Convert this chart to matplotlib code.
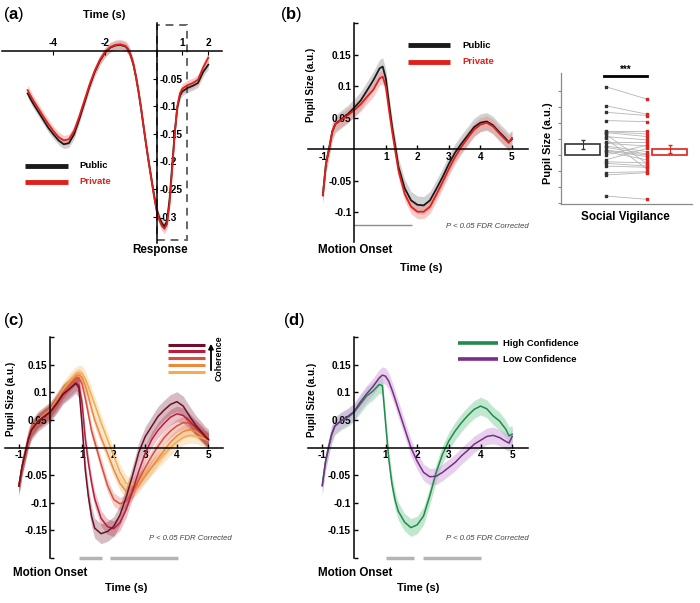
import numpy as np
import matplotlib
matplotlib.use("Agg")
import matplotlib.pyplot as plt
from matplotlib.lines import Line2D
from matplotlib.patches import Rectangle, FancyArrowPatch

plt.rcParams.update({
    "font.family": ["Liberation Sans", "DejaVu Sans"],
    "font.weight": "bold",
    "axes.unicode_minus": False,
    "mathtext.fontset": "custom",
    "mathtext.rm": "Liberation Sans",
    "mathtext.bf": "Liberation Sans:bold",
    "axes.linewidth": 1.1,
})

# ---- data -------------------------------------------------------------
# (a) response-locked pupil (s relative to response)
T_RESP = [-5.0, -4.8, -4.6, -4.4, -4.2, -4.0, -3.8, -3.6, -3.4, -3.2, -3.0, -2.8,
          -2.6, -2.4, -2.2, -2.0, -1.8, -1.6, -1.4, -1.2, -1.1, -1.0, -0.9, -0.8,
          -0.7, -0.6, -0.5, -0.4, -0.3, -0.2, -0.1, 0.0, 0.1, 0.2, 0.3, 0.4, 0.5,
          0.6, 0.7, 0.8, 0.9, 1.0, 1.1, 1.2, 1.4, 1.6, 1.8, 2.0]
RESP_PUBLIC = [-0.077, -0.094, -0.109, -0.124, -0.139, -0.151, -0.162, -0.169, -0.167,
               -0.151, -0.124, -0.094, -0.064, -0.038, -0.018, -0.003, 0.006, 0.010,
               0.011, 0.008, 0.002, -0.009, -0.025, -0.048, -0.075, -0.106, -0.140,
               -0.173, -0.204, -0.233, -0.262, -0.287, -0.302, -0.312, -0.318, -0.308,
               -0.268, -0.208, -0.147, -0.102, -0.081, -0.073, -0.070, -0.067, -0.063,
               -0.058, -0.038, -0.025]
RESP_PRIVATE = [-0.071, -0.088, -0.103, -0.118, -0.132, -0.145, -0.156, -0.162, -0.160,
                -0.145, -0.119, -0.090, -0.061, -0.036, -0.016, -0.002, 0.007, 0.011,
                0.012, 0.009, 0.003, -0.008, -0.024, -0.047, -0.074, -0.105, -0.139,
                -0.172, -0.204, -0.234, -0.264, -0.290, -0.306, -0.317, -0.322, -0.314,
                -0.276, -0.214, -0.150, -0.100, -0.077, -0.068, -0.065, -0.062, -0.058,
                -0.052, -0.030, -0.012]
SEM_RESP_PUBLIC = 0.008
SEM_RESP_PRIVATE = 0.009

# (b)-(d) motion-onset-locked pupil
T_MOTION = [-1.0, -0.9, -0.8, -0.7, -0.6, -0.4, -0.2, 0.0, 0.2, 0.4, 0.6, 0.8, 0.9,
            1.0, 1.1, 1.2, 1.3, 1.4, 1.6, 1.8, 2.0, 2.2, 2.4, 2.6, 2.8, 3.0, 3.2,
            3.4, 3.6, 3.8, 4.0, 4.2, 4.4, 4.6, 4.8, 4.9, 5.0]

PUBLIC = [-0.073, -0.023, 0.001, 0.028, 0.040, 0.048, 0.056, 0.066, 0.077, 0.093,
          0.109, 0.128, 0.131, 0.112, 0.072, 0.035, 0.004, -0.028, -0.062, -0.081,
          -0.088, -0.089, -0.081, -0.063, -0.044, -0.023, -0.005, 0.009, 0.022, 0.035,
          0.042, 0.044, 0.038, 0.027, 0.017, 0.011, 0.016]
PRIVATE = [-0.073, -0.023, 0.001, 0.028, 0.040, 0.047, 0.054, 0.062, 0.071, 0.083,
           0.094, 0.112, 0.115, 0.099, 0.062, 0.028, -0.003, -0.034, -0.071, -0.091,
           -0.099, -0.099, -0.091, -0.072, -0.052, -0.031, -0.012, 0.004, 0.018, 0.031,
           0.039, 0.042, 0.036, 0.025, 0.015, 0.010, 0.018]
SEM_PUBLIC = 0.014
SEM_PRIVATE = 0.011

# paired per-subject social vigilance values (arbitrary units)
VIG_PUBLIC = [4.27, 3.08, 2.67, 2.15, 1.52, 1.46, 1.40, 1.31, 1.15, 1.04, 0.83, 0.73,
              0.56, 0.48, 0.31, 0.27, 0.21, 0.00, -0.31, -0.42, -0.52, -0.69, -1.10,
              -1.25, -2.56]
VIG_PRIVATE = [3.48, 2.54, 2.46, 2.08, 1.52, 1.31, 1.15, -0.56, 0.94, -0.90, 0.83, 0.56,
               0.21, 0.06, 0.00, -0.10, -0.31, 0.62, 0.42, -0.50, -0.69, -0.77, -1.04,
               -1.10, -2.77]

# (c) coherence levels, highest first
COHERENCE = [
    [-0.070, -0.035, -0.010, 0.015, 0.032, 0.047, 0.056, 0.065, 0.080, 0.097, 0.106,
     0.116, 0.108, 0.040, -0.040, -0.089, -0.125, -0.146, -0.156, -0.152, -0.143,
     -0.122, -0.089, -0.050, -0.008, 0.020, 0.038, 0.056, 0.068, 0.078, 0.083, 0.075,
     0.057, 0.040, 0.027, 0.020, 0.015],
    [-0.070, -0.035, -0.010, 0.015, 0.032, 0.047, 0.056, 0.064, 0.079, 0.096, 0.106,
     0.117, 0.113, 0.080, 0.016, -0.028, -0.064, -0.093, -0.128, -0.143, -0.147,
     -0.136, -0.112, -0.078, -0.042, -0.010, 0.014, 0.031, 0.044, 0.055, 0.061, 0.058,
     0.048, 0.036, 0.025, 0.019, 0.014],
    [-0.070, -0.035, -0.010, 0.016, 0.033, 0.048, 0.057, 0.066, 0.082, 0.100, 0.113,
     0.125, 0.126, 0.115, 0.090, 0.060, 0.030, 0.010, -0.030, -0.068, -0.094, -0.102,
     -0.097, -0.080, -0.058, -0.036, -0.016, 0.002, 0.018, 0.030, 0.039, 0.045, 0.044,
     0.036, 0.024, 0.018, 0.014],
    [-0.070, -0.035, -0.010, 0.016, 0.033, 0.048, 0.058, 0.067, 0.084, 0.102, 0.116,
     0.128, 0.131, 0.127, 0.112, 0.092, 0.070, 0.050, 0.018, -0.010, -0.040, -0.065,
     -0.080, -0.080, -0.068, -0.052, -0.036, -0.020, -0.005, 0.010, 0.021, 0.029,
     0.032, 0.029, 0.021, 0.017, 0.013],
    [-0.070, -0.035, -0.010, 0.016, 0.033, 0.049, 0.059, 0.068, 0.086, 0.105, 0.120,
     0.132, 0.135, 0.134, 0.125, 0.110, 0.094, 0.078, 0.045, 0.015, -0.015, -0.045,
     -0.065, -0.068, -0.060, -0.048, -0.036, -0.024, -0.012, 0.000, 0.010, 0.018,
     0.022, 0.021, 0.017, 0.015, 0.012],
]
SEM_COHERENCE = [0.018, 0.014, 0.012, 0.012, 0.014]

# (d) confidence
HIGH_CONF = [-0.069, -0.027, 0.000, 0.024, 0.039, 0.048, 0.054, 0.063, 0.078, 0.093,
             0.102, 0.114, 0.112, 0.045, -0.020, -0.065, -0.095, -0.115, -0.135, -0.145,
             -0.140, -0.124, -0.087, -0.045, -0.012, 0.012, 0.030, 0.045, 0.058, 0.069,
             0.075, 0.070, 0.057, 0.048, 0.033, 0.021, 0.024]
LOW_CONF = [-0.069, -0.027, 0.000, 0.024, 0.039, 0.049, 0.056, 0.065, 0.082, 0.097,
            0.110, 0.126, 0.131, 0.129, 0.120, 0.105, 0.088, 0.070, 0.035, 0.000,
            -0.025, -0.045, -0.053, -0.052, -0.045, -0.036, -0.027, -0.015, -0.005,
            0.006, 0.013, 0.020, 0.022, 0.018, 0.011, 0.008, 0.020]
SEM_HIGH = 0.016
SEM_LOW = 0.015

# significant clusters (s)
SIG_B = [(0.0, 1.82)]
SIG_C = [(0.89, 1.63), (1.88, 4.02)]
SIG_D = [(1.0, 1.89), (2.19, 4.0)]

# ---- colours ------------------------------------------------------------
BLACK = "#1a1a1a"
GRAYBAND = "#9a9a9a"
RED = "#e0201b"
PINK = "#f08a8a"
COH_COLORS = ["#6e1029", "#b81f3a", "#d9503c", "#ea8a3c", "#f3ad4c"]
GREEN = "#1f8b4c"
GREEN_BAND = "#8fd4a8"
PURPLE = "#7a2d8c"
PURPLE_BAND = "#d3aadd"
SIGGRAY = "#b4b4b4"

W, H = 700, 603


def fx(x):
    return x / W


def fy(y):
    return 1 - y / H


def rect(x0, y0, x1, y1):
    return [fx(x0), fy(y1), (x1 - x0) / W, (y1 - y0) / H]


def ftext(x, y, s, size=8, **kw):
    kw.setdefault("ha", "center")
    kw.setdefault("va", "center")
    kw.setdefault("fontweight", "bold")
    fig.text(fx(x), fy(y), s, fontsize=size, **kw)


def legend_line(x0, x1, y, color, lw=3.5):
    fig.add_artist(Line2D([fx(x0), fx(x1)], [fy(y), fy(y)], color=color, lw=lw,
                          solid_capstyle="butt"))


def band(ax, t, y, sem, color, bandcolor, alpha=0.45, lw=1.2):
    t = np.asarray(t)
    y = np.asarray(y)
    ax.fill_between(t, y - sem, y + sem, color=bandcolor, alpha=alpha, lw=0)
    ax.plot(t, y, color=color, lw=lw)


def motion_axes(ax, xlim, ylim, yticks, ylabels):
    ax.set_xlim(*xlim)
    ax.set_ylim(*ylim)
    for s in ["top", "right"]:
        ax.spines[s].set_visible(False)
    ax.spines["left"].set_position(("data", 0))
    ax.spines["bottom"].set_position(("data", 0))
    ax.set_xticks([-1, 1, 2, 3, 4, 5])
    ax.set_xticklabels(["-1", "1", "2", "3", "4", "5"])
    ax.set_yticks(yticks)
    ax.set_yticklabels(ylabels)
    ax.tick_params(direction="in", length=3, width=1, labelsize=7.3, pad=2)
    ax.patch.set_visible(False)


fig = plt.figure(figsize=(7.0, 6.03), dpi=100)

# ---- (a) ------------------------------------------------------------------
ax = fig.add_axes(rect(2, 23, 222, 243))
ax.set_xlim(-5.99, 2.53)
ax.set_ylim(-0.348, 0.0507)
ax.spines["left"].set_visible(False)
ax.spines["bottom"].set_visible(False)
ax.spines["top"].set_position(("data", 0))
ax.spines["right"].set_position(("data", 0))
ax.xaxis.tick_top()
ax.yaxis.tick_right()
ax.set_xticks([-4, -2, 1, 2])
ax.set_xticklabels(["-4", "-2", "1", "2"])
ax.set_yticks([-0.3, -0.25, -0.2, -0.15, -0.1, -0.05])
ax.set_yticklabels(["-0.3", "-0.25", "-0.2", "-0.15", "-0.1", "-0.05"])
ax.tick_params(direction="in", length=3, labelsize=7.3, pad=2)
ax.patch.set_visible(False)
band(ax, T_RESP, RESP_PUBLIC, SEM_RESP_PUBLIC, BLACK, GRAYBAND, lw=1.3)
band(ax, T_RESP, RESP_PRIVATE, SEM_RESP_PRIVATE, RED, PINK, lw=1.3)
ax.add_patch(Rectangle((0, -0.342), 1.17, 0.389, fill=False, ec="#666666", lw=1.4,
                       ls=(0, (4, 3)), clip_on=False))
ftext(104, 15, "Time (s)", 8)
ftext(160, 250, "Response", 8.4)
legend_line(25, 68, 165.5, BLACK)
legend_line(25, 68, 181.5, RED)
ftext(79, 165.5, "Public", 6.8, ha="left")
ftext(79, 181.5, "Private", 6.8, ha="left", color=RED)

# ---- (b) main -----------------------------------------------------------------
ax = fig.add_axes(rect(308, 23, 528, 242))
motion_axes(ax, (-1.47, 5.51), (-0.147, 0.2),
            [-0.1, -0.05, 0.05, 0.1, 0.15, 0.2],
            ["-0.1", "-0.05", "0.05", "0.1", "0.15", ""])
band(ax, T_MOTION, PUBLIC, SEM_PUBLIC, BLACK, GRAYBAND, lw=1.3)
band(ax, T_MOTION, PRIVATE, SEM_PRIVATE, RED, PINK, lw=1.3)
for a, b in SIG_B:
    ax.plot([a, b], [-0.1206, -0.1206], color="#8c8c8c", lw=1, solid_capstyle="butt")
ftext(529, 227, "P < 0.05 FDR Corrected", 5.6, ha="right", fontweight="normal",
      style="italic", color="#444444")
ftext(311, 85, "Pupil Size (a.u.)", 7.2, rotation=90)
ftext(355, 250, "Motion Onset", 8.4)
ftext(421, 268, "Time (s)", 8)
legend_line(408, 450, 45, BLACK)
legend_line(408, 450, 62, RED)
ftext(462, 45, "Public", 6.8, ha="left")
ftext(462, 62, "Private", 6.8, ha="left", color=RED)

# ---- (b) inset ----------------------------------------------------------------
ax = fig.add_axes(rect(561, 73, 692, 204))
ax.set_xlim(0, 1)
ax.set_ylim(-3.06, 5.12)
for s in ["top", "right"]:
    ax.spines[s].set_visible(False)
for s in ["left", "bottom"]:
    ax.spines[s].set_color("#8a8a8a")
    ax.spines[s].set_linewidth(0.9)
ax.set_xticks([])
ax.set_yticks(np.arange(-3, 5))
ax.set_yticklabels([])
ax.tick_params(axis="y", length=2, color="#8a8a8a", direction="out")
ax.patch.set_visible(False)
pub = np.array(VIG_PUBLIC)
priv = np.array(VIG_PRIVATE)
for p, q in zip(pub, priv):
    ax.plot([0.34, 0.66], [p, q], color="#b5b5b5", lw=0.6)
ax.scatter(np.full(len(pub), 0.34), pub, s=1.3, marker="s", color="#333333", zorder=3)
ax.scatter(np.full(len(priv), 0.66), priv, s=1.3, marker="s", color=RED, zorder=3)
for xpos, vals, col in [(0.165, pub, "#333333"), (0.83, priv, RED)]:
    m = vals.mean()
    se = vals.std(ddof=1) / np.sqrt(len(vals))
    ax.bar([xpos], [m], width=0.27, fill=False, edgecolor=col, lw=1.2)
    ax.errorbar([xpos], [m], yerr=[se], fmt="none", ecolor=col, elinewidth=0.8,
                capsize=1.5)
ax.plot([0.33, 0.66], [4.94, 4.94], color="black", lw=2, clip_on=False)
ax.text(0.495, 5.3, "***", ha="center", va="center", fontsize=7, clip_on=False)
ftext(548, 143, "Pupil Size (a.u.)", 7.9, rotation=90)
ftext(625, 217, "Social Vigilance", 8.4)

# ---- (c) ------------------------------------------------------------------
yt = [-0.2, -0.15, -0.1, -0.05, 0.05, 0.1, 0.15, 0.2]
yl = ["", "-0.15", "-0.1", "-0.05", "0.05", "0.1", "0.15", ""]
ax = fig.add_axes(rect(5, 337, 223, 558))
motion_axes(ax, (-1.44, 5.46), (-0.2, 0.2), yt, yl)
for vals, sem, col in zip(reversed(COHERENCE), reversed(SEM_COHERENCE), reversed(COH_COLORS)):
    band(ax, T_MOTION, vals, sem, col, col, alpha=0.28, lw=1.1)
for a, b in SIG_C:
    ax.plot([a, b], [-0.2, -0.2], color=SIGGRAY, lw=2.5, solid_capstyle="butt", clip_on=False)
ftext(232, 539, "P < 0.05 FDR Corrected", 5.6, ha="right", fontweight="normal",
      style="italic", color="#444444")
ftext(11, 399, "Pupil Size (a.u.)", 7.2, rotation=90)
ftext(50, 573, "Motion Onset", 8.4)
ftext(126, 588, "Time (s)", 8)
for yy, col in zip([345, 351, 358, 365, 372], COH_COLORS):
    legend_line(168, 205, yy, col, lw=2.2)
fig.add_artist(FancyArrowPatch((fx(211), fy(373)), (fx(211), fy(341)),
                               transform=fig.transFigure, arrowstyle="-|>",
                               mutation_scale=7, lw=1.3, color="black"))
ftext(219, 358, "Coherence", 6.3, rotation=90)

# ---- (d) ------------------------------------------------------------------
ax = fig.add_axes(rect(308, 337, 528, 558))
motion_axes(ax, (-1.45, 5.5), (-0.2, 0.2), yt, yl)
band(ax, T_MOTION, HIGH_CONF, SEM_HIGH, GREEN, GREEN_BAND, alpha=0.55, lw=1.1)
band(ax, T_MOTION, LOW_CONF, SEM_LOW, PURPLE, PURPLE_BAND, alpha=0.55, lw=1.1)
for a, b in SIG_D:
    ax.plot([a, b], [-0.2, -0.2], color=SIGGRAY, lw=2.5, solid_capstyle="butt", clip_on=False)
ftext(529, 538, "P < 0.05 FDR Corrected", 5.6, ha="right", fontweight="normal",
      style="italic", color="#444444")
ftext(312, 400, "Pupil Size (a.u.)", 7.2, rotation=90)
ftext(355, 573, "Motion Onset", 8.4)
ftext(418, 588, "Time (s)", 8)
legend_line(458, 498, 343, GREEN, lw=2.6)
legend_line(458, 498, 359, PURPLE, lw=2.6)
ftext(503, 343, "High Confidence", 6.8, ha="left")
ftext(503, 359, "Low Confidence", 6.8, ha="left")

# ---- panel letters -----------------------------------------------------------
for x, y, letter in [(3, 14, "a"), (280, 14, "b"), (3, 320, "c"), (283, 320, "d")]:
    ftext(x, y, "(" + r"$\mathbf{" + letter + "}$" + ")", 12, ha="left",
          fontweight="normal")

fig.savefig("out.png", dpi=100)
